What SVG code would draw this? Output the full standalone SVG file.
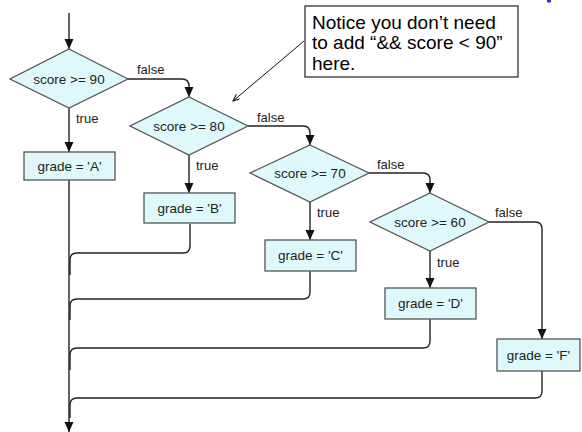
<svg xmlns="http://www.w3.org/2000/svg" width="582" height="432" viewBox="0 0 582 432">
<defs>
<marker id="ah" markerUnits="userSpaceOnUse" markerWidth="10" markerHeight="10" refX="10" refY="4.5" orient="auto"><path d="M0,0 L10,4.5 L0,9 z" fill="#111"/></marker>
<marker id="ah2" markerUnits="userSpaceOnUse" markerWidth="8" markerHeight="8" refX="7" refY="3" orient="auto"><path d="M0,0 L7,3 L0,6" fill="none" stroke="#111" stroke-width="1"/></marker>
<style>
.shape{fill:#dff8fc;stroke:#555;stroke-width:1.3}
.t{font-family:"Liberation Sans",Arial,sans-serif;font-size:13.5px;fill:#222;text-anchor:middle}
.lbl{font-family:"Liberation Sans",Arial,sans-serif;font-size:13px;fill:#222}
.c{fill:none;stroke:#222;stroke-width:1.4}
.note{font-family:"Liberation Sans",Arial,sans-serif;font-size:19px;fill:#000}
</style>
</defs>
<rect width="582" height="432" fill="#fff"/>
<rect x="547" y="0" width="4" height="2.5" fill="#2b3fc4"/>
<g id="connectors">
<path class="c" d="M69,13 V49" marker-end="url(#ah)"/>
<path class="c" d="M69,108 V152" marker-end="url(#ah)"/>
<path class="c" d="M189,155 V193" marker-end="url(#ah)"/>
<path class="c" d="M310,202 V240" marker-end="url(#ah)"/>
<path class="c" d="M430,251 V288" marker-end="url(#ah)"/>
<path class="c" d="M128,79 H182 Q189,79 189,86 V97" marker-end="url(#ah)"/>
<path class="c" d="M248,126 H303 Q310,126 310,133 V145" marker-end="url(#ah)"/>
<path class="c" d="M369,173 H423 Q430,173 430,180 V193" marker-end="url(#ah)"/>
<path class="c" d="M489,222 H535 Q542,222 542,229 V339" marker-end="url(#ah)"/>
<path class="c" d="M69,180 V432" marker-end="url(#ah)"/>
<path class="c" d="M190,224 V246 Q190,253 183,253 H77 Q70,253 70,260 V275"/>
<path class="c" d="M310,271 V292 Q310,299 303,299 H77 Q70,299 70,306 V320"/>
<path class="c" d="M430,319 V341 Q430,348 423,348 H77 Q70,348 70,355 V370"/>
<path class="c" d="M542,371 V391 Q542,398 535,398 H77 Q70,398 70,405 V418"/>
<path d="M304,41 L233,101" fill="none" stroke="#111" stroke-width="1" marker-end="url(#ah2)"/>
<text class="lbl" x="137" y="74">false</text>
<text class="lbl" x="76" y="123">true</text>
<text class="lbl" x="257" y="122">false</text>
<text class="lbl" x="196" y="170">true</text>
<text class="lbl" x="377" y="169">false</text>
<text class="lbl" x="317" y="217">true</text>
<text class="lbl" x="495" y="217">false</text>
<text class="lbl" x="437" y="267">true</text>
</g>
<g id="d90"><polygon class="shape" points="69,49 128,79 69,108 10,79"/><text class="t" x="69" y="84">score &gt;= 90</text></g>
<g id="d80"><polygon class="shape" points="189,97 248,126 189,155 130,126"/><text class="t" x="189" y="131">score &gt;= 80</text></g>
<g id="d70"><polygon class="shape" points="310,145 369,173 310,202 250,173"/><text class="t" x="310" y="178">score &gt;= 70</text></g>
<g id="d60"><polygon class="shape" points="430,193 489,222 430,251 370,222"/><text class="t" x="430" y="227">score &gt;= 60</text></g>
<g id="gA"><rect class="shape" x="24" y="152" width="91" height="28"/><text class="t" x="69.5" y="171">grade = 'A'</text></g>
<g id="gB"><rect class="shape" x="144" y="193" width="91" height="30"/><text class="t" x="189.5" y="213">grade = 'B'</text></g>
<g id="gC"><rect class="shape" x="265" y="240" width="91" height="31"/><text class="t" x="310.5" y="260">grade = 'C'</text></g>
<g id="gD"><rect class="shape" x="385" y="288" width="91" height="31"/><text class="t" x="430.5" y="308">grade = 'D'</text></g>
<g id="gF"><rect class="shape" x="497" y="339" width="83" height="32"/><text class="t" x="538.5" y="360">grade = 'F'</text></g>
<g id="note"><rect x="305" y="6" width="213" height="71" fill="#fff" stroke="#222" stroke-width="1.2"/>
<text class="note" x="312" y="29">Notice you don’t need</text>
<text class="note" x="312" y="49">to add “&amp;&amp; score &lt; 90”</text>
<text class="note" x="312" y="70">here.</text></g>
</svg>
